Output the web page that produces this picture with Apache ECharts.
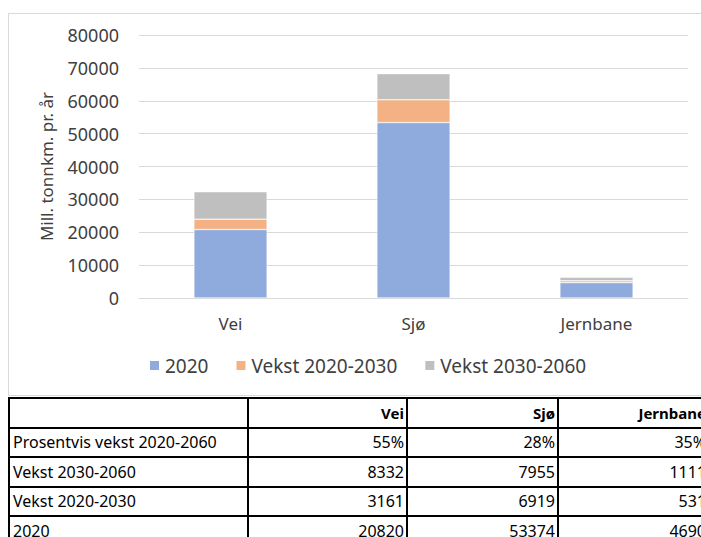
<!DOCTYPE html>
<html>
<head>
<meta charset="utf-8">
<script src="https://cdn.jsdelivr.net/npm/echarts@6/dist/echarts.min.js"></script>
<style>
  html, body { margin: 0; padding: 0; background: #fff; width: 701px; height: 537px; overflow: hidden; position: relative; }
  #frame { position: absolute; left: 8px; top: 13px; width: 720px; height: 381px; border: 1px solid #d9d9d9; }
  #chart { position: absolute; left: 0; top: 0; width: 701px; height: 396px; }
  #tbl { position: absolute; left: 8px; top: 397px; border-collapse: collapse; font-family: "Noto Sans", sans-serif; font-size: 16px; color: #000; table-layout: fixed; }
  #tbl tr { height: 29.5px; }
  #tbl td { border: 2px solid #000; padding: 0 2px 0 3px; white-space: nowrap; overflow: hidden; line-height: 20px; }
  #tbl td.num { text-align: right; font-size: 16px; }
  #tbl tr.head td { font-weight: bold; font-size: 15px; }
</style>
</head>
<body>
<div id="frame"></div>
<div id="chart"></div>
<table id="tbl"></table>
<script>
(function() {
  // --- data ---
  var categories = ['Vei', 'Sjø', 'Jernbane'];
  var seriesNames = ['2020', 'Vekst 2020-2030', 'Vekst 2030-2060'];
  var values2020 = [20820, 53374, 4690];
  var vekst2020_2030 = [3161, 6919, 531];
  var vekst2030_2060 = [8332, 7955, 1111];
  var prosentVekst = ['55%', '28%', '35%'];
  var yTicks = [0, 10000, 20000, 30000, 40000, 50000, 60000, 70000, 80000];
  var colors = ['#8faadc', '#f4b183', '#bfbfbf'];

  var font = '"Noto Sans", sans-serif';
  var text = '#404040';
  var grid = '#d9d9d9';

  var chart = echarts.init(document.getElementById('chart'), null, { renderer: 'svg' });
  chart.setOption({
    animation: false,
    color: colors,
    textStyle: { fontFamily: font },
    grid: { left: 139, right: 13, top: 35, height: 263 },
    legend: {
      data: seriesNames,
      top: 356,
      left: 148,
      padding: 0,
      itemWidth: 11,
      itemHeight: 11,
      itemGap: 26,
      icon: 'rect',
      textStyle: { color: text, fontSize: 19, fontFamily: font }
    },
    xAxis: {
      type: 'category',
      data: categories,
      axisLine: { lineStyle: { color: grid, width: 1 } },
      axisTick: { show: false },
      axisLabel: { color: text, fontSize: 17, margin: 17, fontFamily: font }
    },
    yAxis: {
      type: 'value',
      min: yTicks[0],
      max: yTicks[yTicks.length - 1],
      interval: yTicks[1] - yTicks[0],
      name: 'Mill. tonnkm. pr. år',
      nameLocation: 'middle',
      nameGap: 84,
      nameRotate: 90,
      nameTextStyle: { color: text, fontSize: 17, fontFamily: font },
      axisLine: { show: false },
      axisTick: { show: false },
      splitLine: { lineStyle: { color: grid, width: 1 } },
      axisLabel: { color: text, fontSize: 18, margin: 20, fontFamily: font,
        formatter: function(v) { return String(v); } }
    },
    series: [
      { name: seriesNames[0], type: 'bar', stack: 't', data: values2020, barWidth: '40%',
        itemStyle: { borderColor: '#fff', borderWidth: 0.5 } },
      { name: seriesNames[1], type: 'bar', stack: 't', data: vekst2020_2030, barWidth: '40%',
        itemStyle: { borderColor: '#fff', borderWidth: 0.5 } },
      { name: seriesNames[2], type: 'bar', stack: 't', data: vekst2030_2060, barWidth: '40%',
        itemStyle: { borderColor: '#fff', borderWidth: 0.5 } }
    ]
  });

  // --- table under the chart (reference is cut at the right and bottom edge) ---
  var colWidths = [239, 159, 151, 151];
  var rows = [
    { label: '', cells: categories, head: true },
    { label: 'Prosentvis vekst 2020-2060', cells: prosentVekst },
    { label: seriesNames[2], cells: vekst2030_2060 },
    { label: seriesNames[1], cells: vekst2020_2030 },
    { label: seriesNames[0], cells: values2020 }
  ];
  var tbl = document.getElementById('tbl');
  tbl.style.width = colWidths.reduce(function(a, b) { return a + b; }, 0) + 'px';
  var cg = document.createElement('colgroup');
  colWidths.forEach(function(w) {
    var c = document.createElement('col');
    c.style.width = w + 'px';
    cg.appendChild(c);
  });
  tbl.appendChild(cg);
  rows.forEach(function(r) {
    var tr = document.createElement('tr');
    if (r.head) tr.className = 'head';
    var td = document.createElement('td');
    td.textContent = r.label;
    tr.appendChild(td);
    r.cells.forEach(function(v) {
      var c = document.createElement('td');
      c.className = 'num';
      c.textContent = v;
      tr.appendChild(c);
    });
    tbl.appendChild(tr);
  });
})();
</script>
</body>
</html>
